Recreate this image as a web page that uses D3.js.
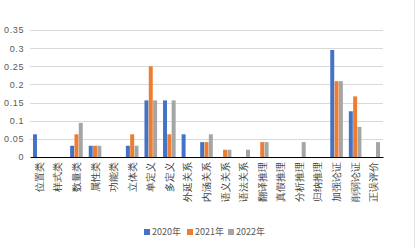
<!DOCTYPE html>
<html>
<head>
<meta charset="utf-8">
<script src="https://cdn.jsdelivr.net/npm/d3@7"></script>
<style>
  body { margin: 0; background: #fff; }
  svg { display: block; font-family: "Noto Sans CJK SC", "Noto Sans", sans-serif; }
</style>
</head>
<body>
<div id="chart"></div>
<script>
// data
var categories = ['位置类', '样式类', '数量类', '属性类', '功能类', '立体类', '单定义', '多定义',
  '外延关系', '内涵关系', '语义关系', '语法关系', '翻译推理', '真假推理', '分析推理', '归纳推理',
  '加强论证', '削弱论证', '正误评价'];
var years = ['2020年', '2021年', '2022年'];
var values2020 = [0.0625, 0, 0.031, 0.031, 0, 0.031, 0.156, 0.156, 0.0625, 0.041, 0, 0, 0, 0, 0, 0, 0.295, 0.126, 0];
var values2021 = [0, 0, 0.0625, 0.031, 0, 0.0625, 0.25, 0.0625, 0, 0.041, 0.02, 0, 0.041, 0, 0, 0, 0.209, 0.167, 0];
var values2022 = [0, 0, 0.094, 0.031, 0, 0.031, 0.156, 0.156, 0, 0.0625, 0.02, 0.02, 0.041, 0, 0.041, 0, 0.209, 0.083, 0.041];
var yTicks = [0, 0.05, 0.1, 0.15, 0.2, 0.25, 0.3, 0.35];
var colors = ['#4472C4', '#ED7D31', '#A5A5A5'];

var series = [values2020, values2021, values2022];

var width = 417, height = 248;
var margin = { top: 30, right: 34, bottom: 91, left: 30 };

var svg = d3.select('#chart').append('svg')
  .attr('width', width)
  .attr('height', height);

// outer frame (light edge on right)
svg.append('line')
  .attr('x1', width - 2.5).attr('x2', width - 2.5)
  .attr('y1', 0).attr('y2', height)
  .style('stroke', '#e6e6e6');

var x0 = d3.scaleBand()
  .domain(categories)
  .range([margin.left, width - margin.right]);

var groupW = 12.6;
var x1 = d3.scaleBand()
  .domain(years)
  .range([(x0.bandwidth() - groupW) / 2, (x0.bandwidth() + groupW) / 2])
  .paddingInner(0.08);

var y = d3.scaleLinear()
  .domain([0, 0.35])
  .range([height - margin.bottom, margin.top]);

// gridlines
svg.append('g')
  .selectAll('line')
  .data(yTicks.slice(1))
  .enter()
  .append('line')
  .attr('x1', margin.left)
  .attr('x2', width - margin.right)
  .attr('y1', function (d) { return Math.round(y(d)) + 0.5; })
  .attr('y2', function (d) { return Math.round(y(d)) + 0.5; })
  .style('stroke', '#d9d9d9')
  .style('stroke-width', 1);

// y axis labels
var yAxis = d3.axisLeft(y)
  .tickValues(yTicks)
  .tickSize(0)
  .tickPadding(6)
  .tickFormat(function (d) { return d === 0 ? '0' : String(+d.toFixed(2)); });

var yg = svg.append('g')
  .attr('transform', 'translate(' + margin.left + ',0)')
  .call(yAxis);
yg.select('.domain').remove();
yg.selectAll('text')
  .style('font-size', '9px')
  .style('letter-spacing', '0.6px')
  .style('fill', '#595959');

// bars
var groups = svg.append('g')
  .selectAll('g')
  .data(categories)
  .enter()
  .append('g')
  .attr('transform', function (d) { return 'translate(' + x0(d) + ',0)'; });

groups.selectAll('rect')
  .data(function (d, i) {
    return years.map(function (yr, j) { return { year: yr, value: series[j][i], c: colors[j] }; });
  })
  .enter()
  .append('rect')
  .attr('x', function (d) { return x1(d.year); })
  .attr('width', x1.bandwidth())
  .attr('y', function (d) { return y(d.value); })
  .attr('height', function (d) { return y(0) - y(d.value); })
  .style('fill', function (d) { return d.c; });

// x axis
var xAxis = d3.axisBottom(x0).tickSize(0).tickPadding(0);
var xg = svg.append('g')
  .attr('transform', 'translate(0,' + y(0) + ')')
  .call(xAxis);
xg.select('.domain')
  .style('stroke', '#000')
  .style('stroke-width', 1.2);
xg.selectAll('text')
  .attr('transform', 'rotate(-90)')
  .attr('x', -5)
  .attr('y', 0)
  .attr('dy', '0.35em')
  .style('text-anchor', 'end')
  .style('font-size', '10px')
  .style('fill', '#404040');

// legend
var legend = svg.append('g')
  .attr('transform', 'translate(144,232)');
var lx = [0, 43, 84];
var items = legend.selectAll('g')
  .data(years)
  .enter()
  .append('g')
  .attr('transform', function (d, i) { return 'translate(' + lx[i] + ',0)'; });
items.append('rect')
  .attr('x', 0).attr('y', -3)
  .attr('width', 6).attr('height', 6)
  .style('fill', function (d, i) { return colors[i]; });
items.append('text')
  .attr('x', 8)
  .attr('y', 0)
  .attr('dy', '0.35em')
  .style('font-size', '9px')
  .style('fill', '#595959')
  .text(function (d) { return d; });
</script>
</body>
</html>
